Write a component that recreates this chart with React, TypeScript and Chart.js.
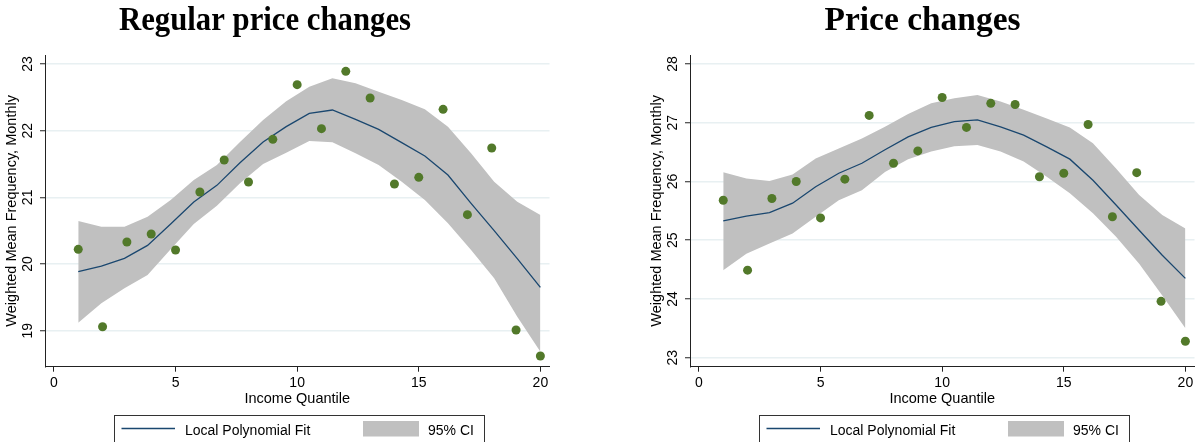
import { useEffect, useRef } from "react";
import { Chart, registerables } from "chart.js";

Chart.register(...registerables);

// Income quantiles (x positions of the binned means)
const quantiles = [1, 2, 3, 4, 5, 6, 7, 8, 9, 10, 11, 12, 13, 14, 15, 16, 17, 18, 19, 20];

// Evaluation grid of the local polynomial smoother
const fitGrid = [1, 1.95, 2.9, 3.85, 4.8, 5.75, 6.7, 7.65, 8.6, 9.55, 10.5, 11.45, 12.4, 13.35, 14.3, 15.25, 16.2, 17.15, 18.1, 19.05, 20];

const xTicks = [0, 5, 10, 15, 20];

// Panel 1: regular price changes
const regularMeans = [20.22, 19.06, 20.33, 20.45, 20.21, 21.08, 21.56, 21.23, 21.87, 22.69, 22.03, 22.89, 22.49, 21.2, 21.3, 22.32, 20.74, 21.74, 19.01, 18.62];
const regularFit = [19.885, 19.97, 20.085, 20.28, 20.6, 20.93, 21.18, 21.52, 21.83, 22.06, 22.26, 22.31, 22.17, 22.02, 21.82, 21.62, 21.335, 20.91, 20.5, 20.08, 19.65];
const regularUpper = [20.645, 20.56, 20.56, 20.71, 20.96, 21.26, 21.485, 21.83, 22.16, 22.44, 22.66, 22.785, 22.71, 22.585, 22.46, 22.32, 22.06, 21.66, 21.235, 20.935, 20.735];
const regularLower = [19.12, 19.41, 19.635, 19.835, 20.22, 20.6, 20.875, 21.21, 21.5, 21.67, 21.845, 21.825, 21.66, 21.485, 21.235, 20.96, 20.61, 20.21, 19.785, 19.21, 18.685];
const regularTicks = [19, 20, 21, 22, 23];

// Panel 2: all price changes
const priceMeans = [25.68, 24.49, 25.71, 26.0, 25.38, 26.04, 27.125, 26.31, 26.52, 27.43, 26.92, 27.33, 27.31, 26.08, 26.14, 26.97, 25.4, 26.15, 23.96, 23.28];
const priceFit = [25.33, 25.41, 25.47, 25.63, 25.91, 26.14, 26.31, 26.54, 26.76, 26.92, 27.02, 27.05, 26.93, 26.79, 26.59, 26.38, 26.02, 25.6, 25.17, 24.745, 24.35];
const priceUpper = [26.155, 26.05, 26.01, 26.12, 26.39, 26.56, 26.73, 26.93, 27.15, 27.33, 27.415, 27.47, 27.36, 27.22, 27.07, 26.92, 26.65, 26.22, 25.77, 25.43, 25.2];
const priceLower = [24.49, 24.77, 24.945, 25.115, 25.4, 25.68, 25.85, 26.16, 26.38, 26.51, 26.6, 26.62, 26.51, 26.34, 26.08, 25.8, 25.46, 25.06, 24.6, 24.06, 23.5];
const priceTicks = [23, 24, 25, 26, 27, 28];

const DOT = "#52792a";
const LINE = "#1a476f";
const BAND = "#c0c0c0";
const GRID = "#e8f0f2";
const AXIS = "#222222";
const SANS = '"Liberation Sans", Arial, sans-serif';

const PANEL_W = 554;
const PANEL_H = 442;

type PanelProps = {
  offset: number;
  title: string;
  titleX: number;
  titleWidth: number;
  means: number[];
  fit: number[];
  upper: number[];
  lower: number[];
  yTicks: number[];
  yMin: number;
  yMax: number;
};

const xy = (xs: number[], ys: number[]) => xs.map((x, i) => ({ x, y: ys[i] }));

function Panel(p: PanelProps) {
  const ref = useRef<HTMLCanvasElement | null>(null);

  useEffect(() => {
    const canvas = ref.current;
    if (!canvas) return;

    const annotate = {
      id: "stataText",
      afterDraw(chart: any) {
        const ctx = chart.ctx as CanvasRenderingContext2D;
        const { left, right, top, bottom } = chart.chartArea;
        const xs = chart.scales.x;
        const ys = chart.scales.y;
        ctx.save();
        ctx.fillStyle = "#000";

        // panel title
        ctx.font = 'bold 34px "Liberation Serif", "Times New Roman", serif';
        ctx.textAlign = "center";
        ctx.textBaseline = "alphabetic";
        ctx.fillText(p.title, p.titleX, 30, p.titleWidth);

        // x tick labels and axis title
        ctx.font = `14px ${SANS}`;
        for (const v of xTicks) {
          ctx.fillText(String(v), xs.getPixelForValue(v), 387);
        }
        ctx.font = `14.5px ${SANS}`;
        ctx.fillText("Income Quantile", (left + right) / 2, 403);

        // y tick labels, rotated
        ctx.font = `14px ${SANS}`;
        for (const v of p.yTicks) {
          ctx.save();
          ctx.translate(32, ys.getPixelForValue(v));
          ctx.rotate(-Math.PI / 2);
          ctx.fillText(String(v), 0, 0);
          ctx.restore();
        }

        // y axis title
        ctx.save();
        ctx.font = `14.5px ${SANS}`;
        ctx.translate(16, (top + bottom) / 2);
        ctx.rotate(-Math.PI / 2);
        ctx.fillText("Weighted Mean Frequency, Monthly", 0, 0);
        ctx.restore();

        // legend box
        ctx.strokeStyle = "#333";
        ctx.lineWidth = 1;
        ctx.strokeRect(114.5, 415.5, 370, 40);
        ctx.strokeStyle = LINE;
        ctx.lineWidth = 1.3;
        ctx.beginPath();
        ctx.moveTo(121.5, 428.5);
        ctx.lineTo(175, 428.5);
        ctx.stroke();
        ctx.fillStyle = BAND;
        ctx.fillRect(363, 421, 56, 15.5);
        ctx.fillStyle = "#000";
        ctx.font = `14px ${SANS}`;
        ctx.textAlign = "left";
        ctx.fillText("Local Polynomial Fit", 185, 435);
        ctx.fillText("95% CI", 428, 435);

        ctx.restore();
      },
    };

    const chart = new Chart(canvas, {
      type: "scatter",
      data: {
        datasets: [
          {
            type: "scatter",
            label: "Mean",
            data: xy(quantiles, p.means),
            pointRadius: 4.5,
            pointHoverRadius: 4.5,
            backgroundColor: DOT,
            borderWidth: 0,
            order: 0,
          },
          {
            type: "line",
            label: "Local Polynomial Fit",
            data: xy(fitGrid, p.fit),
            borderColor: LINE,
            borderWidth: 1.3,
            pointRadius: 0,
            tension: 0,
            fill: false,
            order: 1,
          },
          {
            type: "line",
            label: "95% CI",
            data: xy(fitGrid, p.upper),
            borderColor: "rgba(0,0,0,0)",
            borderWidth: 0,
            pointRadius: 0,
            tension: 0,
            backgroundColor: BAND,
            fill: "+1",
            order: 2,
          },
          {
            type: "line",
            label: "lower",
            data: xy(fitGrid, p.lower),
            borderColor: "rgba(0,0,0,0)",
            borderWidth: 0,
            pointRadius: 0,
            tension: 0,
            fill: false,
            order: 3,
          },
        ],
      } as any,
      options: {
        responsive: false,
        animation: false,
        events: [],
        layout: { padding: { left: 0, right: 0.5, top: 55, bottom: 55.3 } },
        plugins: {
          legend: { display: false },
          tooltip: { enabled: false },
          title: { display: false },
        },
        scales: {
          x: {
            type: "linear",
            min: -0.367,
            max: 20.375,
            afterBuildTicks: (s: any) => {
              s.ticks = xTicks.map((v) => ({ value: v }));
            },
            afterFit: (s: any) => {
              s.height = 20;
            },
            ticks: { display: false },
            grid: {
              drawOnChartArea: false,
              drawTicks: true,
              tickLength: 5,
              color: AXIS,
              tickColor: AXIS,
              tickWidth: 1,
            },
            border: { display: true, color: AXIS, width: 1 },
          },
          y: {
            type: "linear",
            min: p.yMin,
            max: p.yMax,
            afterBuildTicks: (s: any) => {
              s.ticks = p.yTicks.map((v) => ({ value: v }));
            },
            afterFit: (s: any) => {
              s.width = 45;
            },
            ticks: { display: false },
            grid: {
              drawOnChartArea: true,
              drawTicks: true,
              tickLength: 5,
              color: GRID,
              lineWidth: 1.5,
              tickColor: AXIS,
              tickWidth: 1,
            },
            border: { display: true, color: AXIS, width: 1 },
          },
        },
      } as any,
      plugins: [annotate],
    });

    return () => chart.destroy();
  }, [p]);

  return (
    <canvas
      ref={ref}
      width={PANEL_W}
      height={PANEL_H}
      style={{ position: "absolute", left: p.offset, top: 0, width: PANEL_W, height: PANEL_H, display: "block" }}
    />
  );
}

const regularPanel: PanelProps = {
  offset: 0,
  title: "Regular price changes",
  titleX: 265,
  titleWidth: 292,
  means: regularMeans,
  fit: regularFit,
  upper: regularUpper,
  lower: regularLower,
  yTicks: regularTicks,
  yMin: 18.46,
  yMax: 23.135,
};

const pricePanel: PanelProps = {
  offset: 645,
  title: "Price changes",
  titleX: 277.5,
  titleWidth: 196,
  means: priceMeans,
  fit: priceFit,
  upper: priceUpper,
  lower: priceLower,
  yTicks: priceTicks,
  yMin: 22.847,
  yMax: 28.153,
};

export default function App() {
  return (
    <div style={{ position: "fixed", left: 0, top: 0, width: 1199, height: 442, background: "#fff", overflow: "hidden" }}>
      <Panel {...regularPanel} />
      <Panel {...pricePanel} />
    </div>
  );
}
